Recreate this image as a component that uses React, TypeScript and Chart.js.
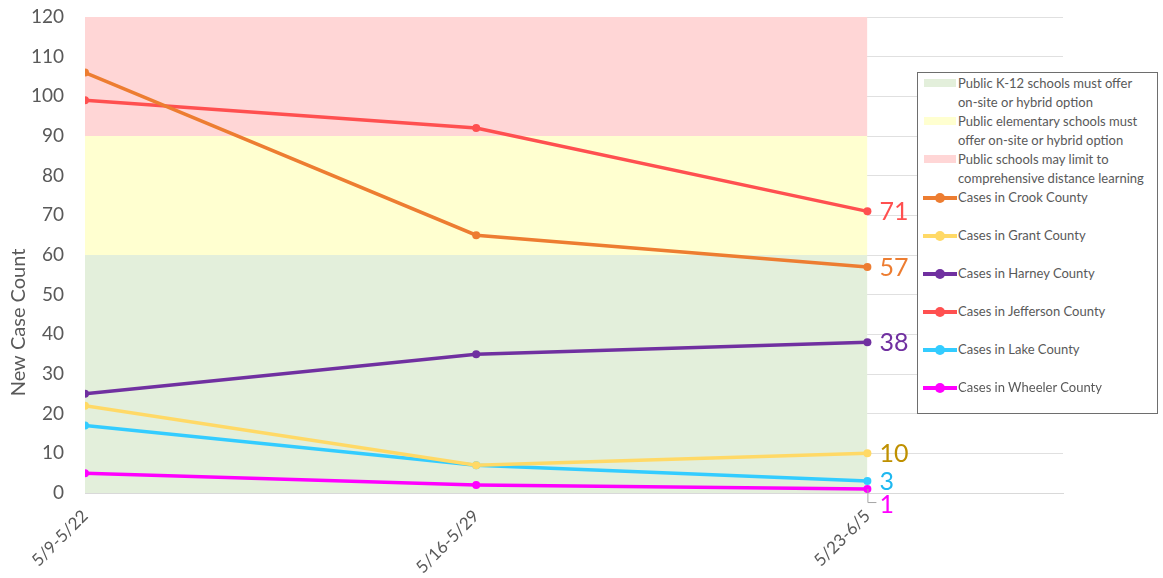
import React, { useEffect, useRef } from 'react';
import { Chart, registerables } from 'chart.js';

Chart.register(...registerables);

// ---- data ----
const periods = ['5/9-5/22', '5/16-5/29', '5/23-6/5'];
const crook = [106, 65, 57];
const grant = [22, 7, 10];
const harney = [25, 35, 38];
const jefferson = [99, 92, 71];
const lake = [17, 7, 3];
const wheeler = [5, 2, 1];

const greenBand = [60, 60, 60];
const yellowBand = [90, 90, 90];
const redBand = [120, 120, 120];

const yTitle = 'New Case Count';

const bandNames = [
  'Public K-12 schools must offer on-site or hybrid option',
  'Public elementary schools must offer on-site or hybrid option',
  'Public schools may limit to comprehensive distance learning',
];
const bandLegendLines = [
  ['Public K-12 schools must offer', 'on-site or hybrid option'],
  ['Public elementary schools must', 'offer on-site or hybrid option'],
  ['Public schools may limit to', 'comprehensive distance learning'],
];
const bandColors = ['#E3EFDB', '#FFFFD0', '#FFD6D6'];

const seriesNames = [
  'Cases in Crook County',
  'Cases in Grant County',
  'Cases in Harney County',
  'Cases in Jefferson County',
  'Cases in Lake County',
  'Cases in Wheeler County',
];
const seriesValues = [crook, grant, harney, jefferson, lake, wheeler];
const seriesColors = ['#ED7D31', '#FFD966', '#7030A0', '#FF5050', '#33CCFF', '#FF00FF'];
const labelColors = ['#ED7D31', '#BF9000', '#7030A0', '#FF5050', '#1FB8F0', '#FF00FF'];

const FONT = 'Lato, "Open Sans", sans-serif';
const TEXT = '#595959';

const toPoints = (arr: number[]) => arr.map((v, i) => ({ x: i, y: v }));

const endLabels = {
  id: 'endLabels',
  afterDatasetsDraw(chart: any) {
    const ctx = chart.ctx;
    ctx.save();
    ctx.font = `25px ${FONT}`;
    ctx.textBaseline = 'middle';
    ctx.textAlign = 'left';
    chart.data.datasets.forEach((ds: any, i: number) => {
      if (!ds._series) return;
      const meta = chart.getDatasetMeta(i);
      const pt = meta.data[meta.data.length - 1];
      if (!pt) return;
      const idx = ds._series - 1;
      let y = pt.y;
      if (idx === 5) {
        y = pt.y + 15;
        ctx.strokeStyle = '#A6A6A6';
        ctx.lineWidth = 1;
        ctx.beginPath();
        ctx.moveTo(pt.x + 0.5, pt.y);
        ctx.lineTo(pt.x + 0.5, y - 1.5);
        ctx.lineTo(pt.x + 9, y - 1.5);
        ctx.stroke();
      }
      ctx.fillStyle = labelColors[idx];
      const vals = seriesValues[idx];
      ctx.fillText(String(vals[vals.length - 1]), pt.x + 12, y + 1);
    });
    ctx.restore();
  },
};

const yTitlePlugin = {
  id: 'yTitlePlugin',
  afterDraw(chart: any) {
    const ctx = chart.ctx;
    const ys = chart.scales.y;
    ctx.save();
    ctx.font = `20px ${FONT}`;
    ctx.fillStyle = TEXT;
    ctx.textAlign = 'center';
    ctx.textBaseline = 'middle';
    // Excel places the title centred over the lower part of the axis
    ctx.translate(19, ys.getPixelForValue(43));
    ctx.rotate(-Math.PI / 2);
    ctx.fillText(yTitle, 0, 0);
    ctx.restore();
  },
};

export default function App() {
  const ref = useRef<HTMLCanvasElement | null>(null);

  useEffect(() => {
    if (!ref.current) return;
    const bandData = [greenBand, yellowBand, redBand];
    const datasets: any[] = [];
    bandData.forEach((b, i) => {
      datasets.push({
        label: bandNames[i],
        data: toPoints(b),
        borderWidth: 0,
        borderColor: 'rgba(0,0,0,0)',
        pointRadius: 0,
        backgroundColor: bandColors[i],
        fill: i === 0 ? 'origin' : '-1',
        order: 10,
      });
    });
    seriesValues.forEach((vals, i) => {
      datasets.push({
        label: seriesNames[i],
        data: toPoints(vals),
        borderColor: seriesColors[i],
        backgroundColor: seriesColors[i],
        borderWidth: 3.5,
        pointRadius: 4,
        pointBorderWidth: 0,
        fill: false,
        order: 1,
        _series: i + 1,
      });
    });

    const chart = new Chart(ref.current, {
      type: 'line',
      data: { datasets },
      plugins: [endLabels, yTitlePlugin],
      options: {
        animation: false,
        responsive: false,
        layout: { padding: { top: 17, right: 100, left: 0, bottom: 0 } },
        plugins: {
          legend: { display: false },
          tooltip: { enabled: false },
        },
        scales: {
          x: {
            type: 'linear',
            min: 0,
            max: 2.5,
            afterBuildTicks: (s: any) => {
              s.ticks = periods.map((_, i) => ({ value: i }));
            },
            afterFit: (s: any) => {
              s.height = 85;
            },
            ticks: {
              autoSkip: false,
              minRotation: 45,
              maxRotation: 45,
              padding: 5,
              color: TEXT,
              font: { family: FONT, size: 17 },
              callback: (v: any) => periods[v] ?? '',
            },
            grid: { display: false },
            border: { display: true, color: '#D9D9D9', width: 1 },
          },
          y: {
            min: 0,
            max: 120,
            afterFit: (s: any) => {
              s.width = 85;
              s.paddingTop = 8;
              s.paddingBottom = 8;
            },
            ticks: {
              stepSize: 10,
              padding: 21,
              color: TEXT,
              font: { family: FONT, size: 19 },
            },
            grid: { color: '#E0E0E0', drawTicks: false, lineWidth: 1 },
            border: { display: false },
            title: { display: false },
          },
        },
      },
    });
    return () => chart.destroy();
  }, []);

  const rowH = 38;
  return (
    <div style={{ position: 'absolute', left: 0, top: 0, width: 1163, height: 578, background: '#fff' }}>
      <canvas ref={ref} width={1163} height={578} style={{ width: 1163, height: 578, display: 'block' }} />
      <div
        style={{
          position: 'absolute',
          left: 917,
          top: 72,
          width: 241,
          height: 342,
          boxSizing: 'border-box',
          border: '1px solid #6E6E6E',
          background: '#fff',
          fontFamily: FONT,
          fontSize: 13,
          color: TEXT,
          paddingTop: 1,
        }}
      >
        {bandLegendLines.map((lines, i) => (
          <div key={'b' + i} style={{ position: 'relative', height: rowH, lineHeight: '19px', paddingLeft: 40, whiteSpace: 'nowrap' }}>
            <span
              style={{
                position: 'absolute',
                left: 6,
                top: 5,
                width: 32,
                height: 8,
                background: bandColors[i],
              }}
            />
            <div>{lines[0]}</div>
            <div>{lines[1]}</div>
          </div>
        ))}
        {seriesNames.map((name, i) => (
          <div key={'s' + i} style={{ position: 'relative', height: rowH, lineHeight: '19px', paddingLeft: 40, whiteSpace: 'nowrap' }}>
            <span
              style={{
                position: 'absolute',
                left: 5,
                top: 7.5,
                width: 34,
                height: 4,
                background: seriesColors[i],
              }}
            />
            <span
              style={{
                position: 'absolute',
                left: 17,
                top: 4.5,
                width: 10,
                height: 10,
                borderRadius: 5,
                background: seriesColors[i],
              }}
            />
            <div>{name}</div>
          </div>
        ))}
      </div>
    </div>
  );
}
